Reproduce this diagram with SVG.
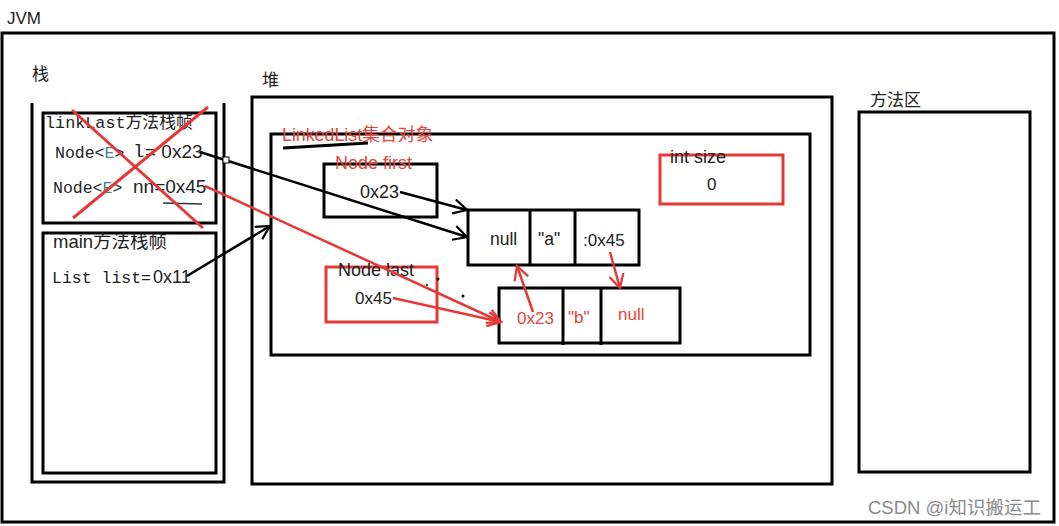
<svg xmlns="http://www.w3.org/2000/svg" width="1059" height="526" viewBox="0 0 1059 526">
<defs>
<style>
.box{fill:none;stroke:#000;stroke-width:3}
.rbox{fill:none;stroke:#e53935;stroke-width:3}
.t{font-family:"Liberation Sans","Noto Sans CJK SC",sans-serif;fill:#222}
.m{font-family:"Liberation Mono","Noto Sans CJK SC",monospace;fill:#222}
.red{fill:#e5443a}
.bl{fill:none;stroke:#000;stroke-width:2.5}
.rl{fill:none;stroke:#e53935;stroke-width:2.5}
</style>
<marker id="ab" viewBox="0 0 20 20" refX="18" refY="10" markerWidth="18" markerHeight="18" markerUnits="userSpaceOnUse" orient="auto">
<path d="M3,2 L18,10 L3,18" fill="none" stroke="#000" stroke-width="2.5"/>
</marker>
<marker id="ar" viewBox="0 0 20 20" refX="18" refY="10" markerWidth="18" markerHeight="18" markerUnits="userSpaceOnUse" orient="auto">
<path d="M3,2 L18,10 L3,18" fill="none" stroke="#e53935" stroke-width="2.5"/>
</marker>
</defs>
<rect width="1059" height="526" fill="#fff"/>

<g id="jvm">
<rect class="box" x="2" y="33" width="1052" height="489"/>
<text class="t" x="7" y="24" font-size="17">JVM</text>
</g>

<g id="stack">
<polyline class="box" points="32,103 32,482 224,482 224,103"/>
<text class="t" x="32" y="80" font-size="17">栈</text>
</g>

<g id="linkLastFrame">
<rect class="box" x="43" y="113" width="173" height="110"/>
<text class="m" x="45" y="128" font-size="16.8">linkLast方法栈帧</text>
<text class="m" x="55" y="158" font-size="16.5">Node&lt;<tspan fill="#3a8a8a">E</tspan>&gt;</text>
<text class="m" x="133" y="157" font-size="19">l</text>
<text class="t" x="145" y="158" font-size="19">= 0x23</text>
<text class="m" x="53" y="193" font-size="16.5">Node&lt;<tspan fill="#3a8a8a">E</tspan>&gt;</text>
<text class="t" x="133" y="193" font-size="19">nn=0x45</text>
<line x1="163" y1="203" x2="202" y2="204" stroke="#334" stroke-width="1.5"/>
<line x1="72" y1="110" x2="203" y2="228" stroke="#e53935" stroke-width="3"/>
<line x1="208" y1="107" x2="73" y2="218" stroke="#e53935" stroke-width="3"/>
</g>

<g id="mainFrame">
<rect class="box" x="43" y="233" width="173" height="240"/>
<text class="t" x="53" y="248" font-size="18.5">main方法栈帧</text>
<text class="m" x="52" y="283" font-size="16.5">List list=</text>
<text class="t" x="153" y="283" font-size="18">0x11</text>
</g>

<g id="heap">
<rect class="box" x="252" y="97" width="580" height="387"/>
<text class="t" x="262" y="86" font-size="17">堆</text>
</g>

<g id="linkedList">
<rect class="box" x="271" y="134" width="539" height="221"/>
<text class="t red" x="282" y="141" font-size="17.8">LinkedList集合对象</text>
<line x1="283" y1="148" x2="368" y2="143" stroke="#000" stroke-width="3"/>
</g>

<g id="nodeFirst">
<rect class="box" x="324" y="164" width="113" height="53"/>
<text class="t red" x="335" y="169" font-size="18">Node first</text>
<text class="t" x="360" y="198" font-size="18">0x23</text>
</g>

<g id="nodeLast">
<rect class="rbox" x="326" y="267" width="111" height="55"/>
<text class="t" x="338" y="276" font-size="18">Node last</text>
<text class="t" x="355" y="304" font-size="17">0x45</text>
</g>

<g id="intSize">
<rect class="rbox" x="660" y="155" width="123" height="49"/>
<text class="t" x="670" y="163" font-size="18">int size</text>
<text class="t" x="707" y="190" font-size="17">0</text>
</g>

<g id="nodeA">
<rect class="box" x="468" y="210" width="171" height="55"/>
<line class="box" x1="530" y1="210" x2="530" y2="265"/>
<line class="box" x1="575" y1="210" x2="575" y2="265"/>
<text class="t" x="490" y="245" font-size="17.5">null</text>
<text class="t" x="538" y="245" font-size="17.5">"a"</text>
<text class="t" x="583" y="246" font-size="17">:0x45</text>
</g>

<g id="nodeB">
<rect class="box" x="499" y="288" width="181" height="55"/>
<line class="box" x1="563" y1="288" x2="563" y2="345"/>
<line class="box" x1="601" y1="288" x2="601" y2="345"/>
<text class="t red" x="517" y="324" font-size="17">0x23</text>
<text class="t red" x="568" y="323" font-size="17">"b"</text>
<text class="t red" x="618" y="320" font-size="17">null</text>
</g>

<g id="methodArea">
<rect class="box" x="859" y="112" width="171" height="360"/>
<text class="t" x="870" y="106" font-size="17">方法区</text>
</g>

<g id="connectors">
<line class="bl" x1="200" y1="152" x2="467" y2="237" marker-end="url(#ab)"/>
<rect x="223" y="157" width="6" height="6" fill="#fff" stroke="#000" stroke-width="1"/>
<line class="bl" x1="400" y1="192" x2="467" y2="210" marker-end="url(#ab)"/>
<line class="bl" x1="187" y1="276" x2="270" y2="226" marker-end="url(#ab)"/>
<line class="rl" x1="205" y1="186" x2="501" y2="322" marker-end="url(#ar)"/>
<line class="rl" x1="393" y1="298" x2="501" y2="322" marker-end="url(#ar)"/>
<line class="rl" x1="533" y1="312" x2="517" y2="266" marker-end="url(#ar)"/>
<line class="rl" x1="610" y1="252" x2="620" y2="288" marker-end="url(#ar)"/>
</g>

<g id="dots" fill="#000">
<circle cx="438" cy="279" r="1.5"/>
<circle cx="463" cy="296" r="1.5"/>
<circle cx="427" cy="285" r="1"/>
</g>

<text class="t" x="868" y="514" font-size="18.5" style="fill:#8a8a8a">CSDN @i知识搬运工</text>
</svg>
